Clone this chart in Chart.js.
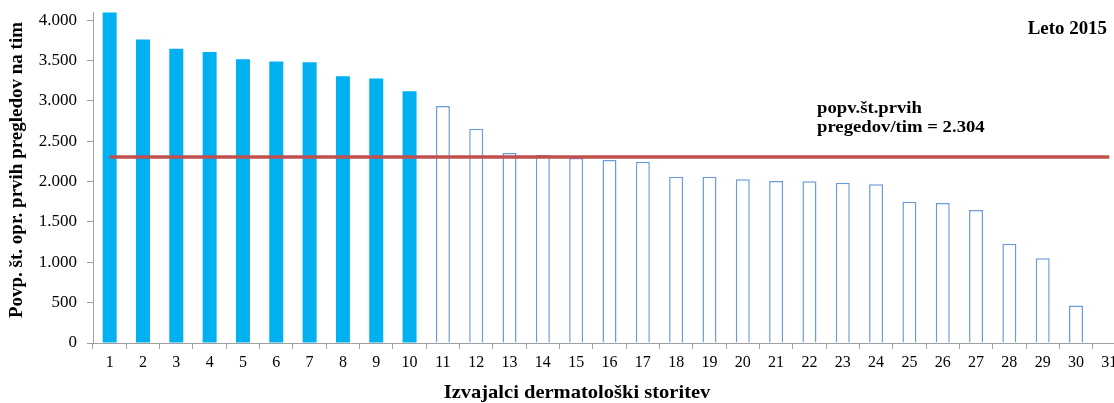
<!DOCTYPE html>
<html>
<head>
<meta charset="utf-8">
<script src="https://cdn.jsdelivr.net/npm/chart.js@4/dist/chart.umd.min.js"></script>
<style>
  html, body { margin: 0; padding: 0; background: #fff; overflow: hidden; }
  #wrap { width: 1126px; height: 403px; position: relative; }
</style>
</head>
<body>
<div id="wrap"><canvas id="c"></canvas></div>
<script>
const categories = ['1','2','3','4','5','6','7','8','9','10','11','12','13','14','15','16','17','18','19','20','21','22','23','24','25','26','27','28','29','30','31'];
const visitsPerTeam = [4095, 3759, 3644, 3603, 3516, 3486, 3479, 3305, 3275, 3119, 2937, 2655, 2354, 2333, 2290, 2267, 2246, 2060, 2058, 2027, 2006, 2005, 1985, 1965, 1749, 1733, 1646, 1228, 1051, 464, null];
const highlightedCount = 10;
const averageValue = 2304;
const averageLine = categories.map(() => averageValue);
const yTickValues = [0, 500, 1000, 1500, 2000, 2500, 3000, 3500, 4000];
const yAxisTitle = 'Povp. št. opr. prvih pregledov na tim';
const xAxisTitle = 'Izvajalci dermatološki storitev';
const chartLabel = 'Leto 2015';
const avgLabelLines = ['popv.št.prvih', 'pregedov/tim = 2.304'];

const FONT = '"Liberation Serif", "Times New Roman", serif';
const AXIS = '#A0A0A0';

const fmt = v => String(v).replace(/\B(?=(\d{3})+(?!\d))/g, '.');

function stretchedText(ctx, text, x, y, sx, align) {
  ctx.save();
  ctx.translate(x, y);
  ctx.scale(sx, 1);
  ctx.textAlign = align;
  ctx.fillText(text, 0, 0);
  ctx.restore();
}

const textPlugin = {
  id: 'texts',
  afterDraw(chart) {
    const ctx = chart.ctx;
    ctx.save();
    ctx.fillStyle = '#000';
    ctx.textBaseline = 'middle';
    // y-axis title
    ctx.font = 'bold 19px ' + FONT;
    ctx.save();
    ctx.translate(17, 170);
    ctx.rotate(-Math.PI / 2);
    ctx.textAlign = 'center';
    ctx.fillText(yAxisTitle, 0, 0);
    ctx.restore();
    // x-axis title
    stretchedText(ctx, xAxisTitle, 577, 393, 1.08, 'center');
    // chart label
    ctx.font = 'bold 18px ' + FONT;
    stretchedText(ctx, chartLabel, 1107, 29, 1.05, 'right');
    // average label
    ctx.font = 'bold 17px ' + FONT;
    stretchedText(ctx, avgLabelLines[0], 817, 109, 1.1, 'left');
    stretchedText(ctx, avgLabelLines[1], 817, 128, 1.1, 'left');
    ctx.restore();
  }
};

new Chart(document.getElementById('c'), {
  type: 'bar',
  data: {
    labels: categories,
    datasets: [
      {
        type: 'line',
        data: averageLine,
        borderColor: '#C0504D',
        borderWidth: 3.5,
        pointRadius: 0,
        fill: false,
        order: 0
      },
      {
        type: 'bar',
        data: visitsPerTeam,
        backgroundColor: visitsPerTeam.map((v, i) => i < highlightedCount ? '#00B0F0' : '#FFFFFF'),
        borderColor: visitsPerTeam.map((v, i) => i < highlightedCount ? '#00B0F0' : '#6A9BDB'),
        borderWidth: visitsPerTeam.map((v, i) => i < highlightedCount ? 0 : 1.5),
        barPercentage: 0.42,
        categoryPercentage: 1.0,
        order: 1
      }
    ]
  },
  options: {
    responsive: true,
    maintainAspectRatio: false,
    animation: false,
    layout: { padding: { left: 0, top: 12, right: 0, bottom: 0 } },
    plugins: { legend: { display: false }, tooltip: { enabled: false }, title: { display: false } },
    scales: {
      x: {
        offset: true,
        grid: { offset: true, drawOnChartArea: false, drawTicks: true, tickLength: 6, color: AXIS },
        border: { display: true, color: AXIS, width: 1 },
        ticks: { autoSkip: false, maxRotation: 0, color: '#000', padding: 4, font: { family: FONT, size: 16 } },
        afterFit(scale) { scale.height = 60; scale.paddingLeft = 0; scale.paddingRight = 0; }
      },
      y: {
        min: 0,
        max: 4100,
        grid: { drawOnChartArea: false, drawTicks: true, tickLength: 6, color: AXIS },
        border: { display: true, color: AXIS, width: 1 },
        afterBuildTicks(scale) { scale.ticks = yTickValues.map(v => ({ value: v })); },
        ticks: { color: '#000', padding: 10, font: { family: FONT, size: 17 }, callback: v => fmt(v) },
        afterFit(scale) { scale.width = 93; scale.paddingTop = 0; scale.paddingBottom = 0; }
      }
    }
  },
  plugins: [textPlugin]
});
</script>
</body>
</html>
